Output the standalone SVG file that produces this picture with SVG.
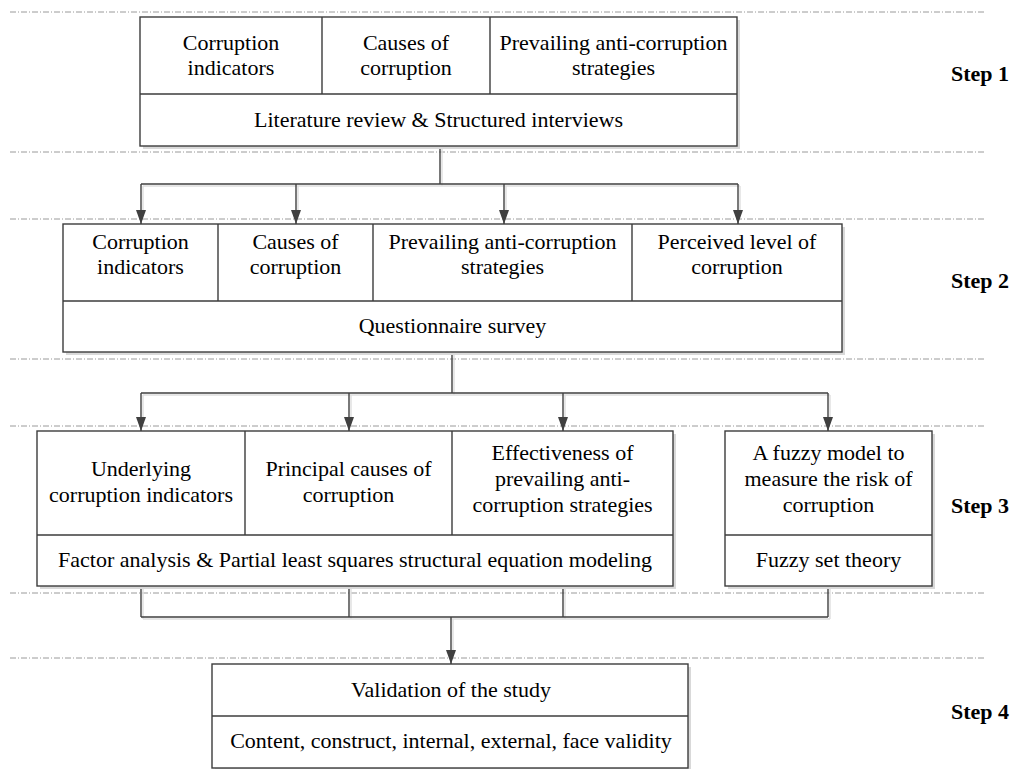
<svg xmlns="http://www.w3.org/2000/svg" width="1013" height="769" viewBox="0 0 1013 769">
  <style>
    .box{fill:#fff;stroke:#3c3c3c;stroke-width:1.4}
    .shd{fill:#d9d9d9}
    .div{stroke:#3c3c3c;stroke-width:1.4;fill:none}
    .t{font-family:"Liberation Serif","Times New Roman",Times,serif;font-size:22px;text-anchor:middle;fill:#000}
    .step{font-family:"Liberation Serif","Times New Roman",Times,serif;font-size:22px;font-weight:bold;fill:#000}
    .lane{stroke:#9a9a9a;stroke-width:1;stroke-dasharray:6 2 1 2;fill:none}
    .con{stroke:#404040;stroke-width:1.4;fill:none}
    .conS{stroke:#dedede;stroke-width:1.4;fill:none}
  </style>
  <defs>
    <marker id="arr" markerUnits="userSpaceOnUse" markerWidth="14" markerHeight="10" refX="14" refY="5" orient="auto" viewBox="0 0 14 10">
      <path d="M0,0 L14,5 L0,10 Z" fill="#404040"/>
    </marker>
  </defs>

  <rect width="1013" height="769" fill="#fff"/>

  <!-- stage separators -->
  <g id="lanes">
    <path class="lane" d="M10,12 H985 M10,152 H985 M10,219 H985 M10,359 H985 M10,426 H985 M10,593 H985 M10,658 H985"/>
  </g>

  <!-- step labels -->
  <g id="steps">
    <text class="step" x="951" y="81">Step 1</text>
    <text class="step" x="951" y="288">Step 2</text>
    <text class="step" x="951" y="513">Step 3</text>
    <text class="step" x="951" y="719">Step 4</text>
  </g>

  <!-- connectors -->
  <g id="connectors">
    <g transform="translate(2,2)">
      <path class="conS" d="M440,146 V184 M141,184 H738 M141,184 V210 M296,184 V210 M504,184 V210 M738,184 V210"/>
      <path class="conS" d="M452,352 V393 M141,393 H828 M141,393 V417 M349,393 V417 M563,393 V417 M828,393 V417"/>
      <path class="conS" d="M141,586 V617 M349,586 V617 M563,586 V617 M828,586 V617 M141,617 H828 M451,617 V650"/>
    </g>
    <path class="con" d="M440,146 V184 M141,184 H738"/>
    <path class="con" marker-end="url(#arr)" d="M141,184 V224"/>
    <path class="con" marker-end="url(#arr)" d="M296,184 V224"/>
    <path class="con" marker-end="url(#arr)" d="M504,184 V224"/>
    <path class="con" marker-end="url(#arr)" d="M738,184 V224"/>

    <path class="con" d="M452,352 V393 M141,393 H828"/>
    <path class="con" marker-end="url(#arr)" d="M141,393 V431"/>
    <path class="con" marker-end="url(#arr)" d="M349,393 V431"/>
    <path class="con" marker-end="url(#arr)" d="M563,393 V431"/>
    <path class="con" marker-end="url(#arr)" d="M828,393 V431"/>

    <path class="con" d="M141,586 V617 M349,586 V617 M563,586 V617 M828,586 V617 M141,617 H828"/>
    <path class="con" marker-end="url(#arr)" d="M451,617 V664"/>
  </g>

  <!-- Step 1 -->
  <g id="step1-node">
    <rect class="shd" x="143" y="20" width="597" height="129"/>
    <rect class="box" x="140" y="17" width="597" height="129"/>
    <path class="div" d="M140,94 H737 M322,17 V94 M490,17 V94"/>
    <text class="t" x="231" y="50">Corruption</text>
    <text class="t" x="231" y="75">indicators</text>
    <text class="t" x="406" y="50">Causes of</text>
    <text class="t" x="406" y="75">corruption</text>
    <text class="t" x="613.5" y="50">Prevailing anti-corruption</text>
    <text class="t" x="613.5" y="75">strategies</text>
    <text class="t" x="438.5" y="127">Literature review &amp; Structured interviews</text>
  </g>

  <!-- Step 2 -->
  <g id="step2-node">
    <rect class="shd" x="66" y="227" width="779" height="128"/>
    <rect class="box" x="63" y="224" width="779" height="128"/>
    <path class="div" d="M63,301 H842 M218,224 V301 M373,224 V301 M632,224 V301"/>
    <text class="t" x="140.5" y="249">Corruption</text>
    <text class="t" x="140.5" y="274">indicators</text>
    <text class="t" x="295.5" y="249">Causes of</text>
    <text class="t" x="295.5" y="274">corruption</text>
    <text class="t" x="502.5" y="249">Prevailing anti-corruption</text>
    <text class="t" x="502.5" y="274">strategies</text>
    <text class="t" x="737" y="249">Perceived level of</text>
    <text class="t" x="737" y="274">corruption</text>
    <text class="t" x="452.5" y="333">Questionnaire survey</text>
  </g>

  <!-- Step 3: statistical analysis -->
  <g id="step3-analysis-node">
    <rect class="shd" x="40" y="434" width="636" height="155"/>
    <rect class="box" x="37" y="431" width="636" height="155"/>
    <path class="div" d="M37,535 H673 M245,431 V535 M452,431 V535"/>
    <text class="t" x="141" y="476">Underlying</text>
    <text class="t" x="141" y="502">corruption indicators</text>
    <text class="t" x="348.5" y="476">Principal causes of</text>
    <text class="t" x="348.5" y="502">corruption</text>
    <text class="t" x="562.5" y="460">Effectiveness of</text>
    <text class="t" x="562.5" y="486">prevailing anti-</text>
    <text class="t" x="562.5" y="512">corruption strategies</text>
    <text class="t" x="355" y="567">Factor analysis &amp; Partial least squares structural equation modeling</text>
  </g>

  <!-- Step 3: fuzzy model -->
  <g id="step3-fuzzy-node">
    <rect class="shd" x="728" y="434" width="207" height="155"/>
    <rect class="box" x="725" y="431" width="207" height="155"/>
    <path class="div" d="M725,535 H932"/>
    <text class="t" x="828.5" y="460">A fuzzy model to</text>
    <text class="t" x="828.5" y="486">measure the risk of</text>
    <text class="t" x="828.5" y="512">corruption</text>
    <text class="t" x="828.5" y="567">Fuzzy set theory</text>
  </g>

  <!-- Step 4 -->
  <g id="step4-node">
    <rect class="shd" x="215" y="667" width="476" height="104"/>
    <rect class="box" x="212" y="664" width="476" height="104"/>
    <path class="div" d="M212,716 H688"/>
    <text class="t" x="451" y="697">Validation of the study</text>
    <text class="t" x="451" y="748">Content, construct, internal, external, face validity</text>
  </g>
</svg>
